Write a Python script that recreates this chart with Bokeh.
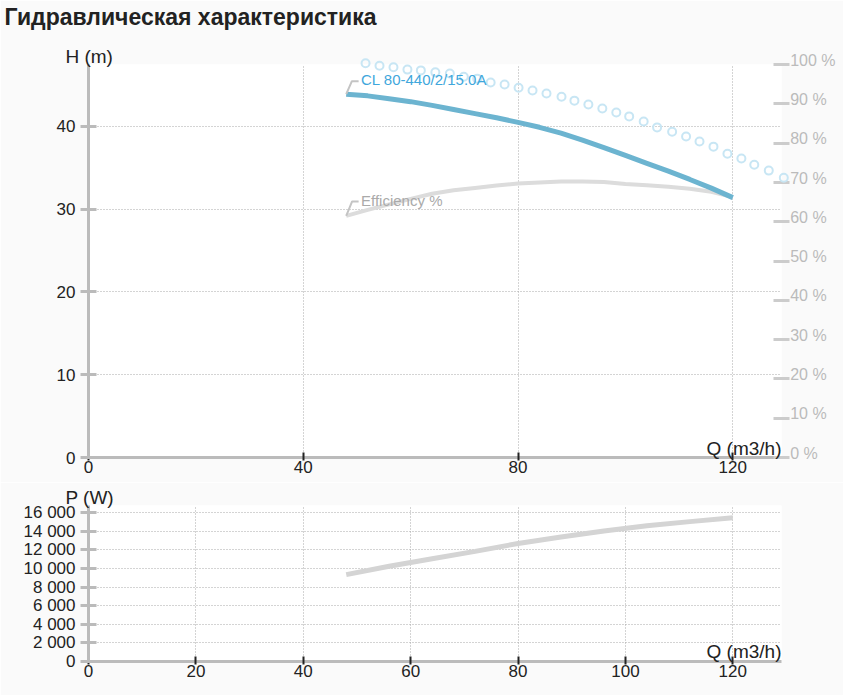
from bokeh.plotting import figure
from bokeh.models import (Range1d, LinearAxis, FixedTicker, CustomJSTickFormatter,
                          ColumnDataSource)
from bokeh.layouts import column
from bokeh.embed import file_html
from bokeh.resources import INLINE
from bokeh.core.properties import value

# ---------------- data ----------------
title_text = "Гидравлическая характеристика"
pump_name = "CL 80-440/2/15.0A"
eff_name = "Efficiency %"
h_title = "H (m)"
p_title = "P (W)"
q_title = "Q (m3/h)"

q_curve = [48, 52, 56, 60, 64, 68, 72, 76, 80, 84, 88, 92, 96, 100, 104, 108, 112, 116, 120]
head_m = [43.9, 43.7, 43.35, 43.0, 42.55, 42.05, 41.55, 41.05, 40.5, 39.9, 39.2, 38.35, 37.45,
          36.5, 35.55, 34.6, 33.6, 32.55, 31.4]
eff_pct = [61.5, 63.0, 64.4, 65.8, 67.1, 68.0, 68.6, 69.2, 69.7, 70.0, 70.2, 70.2, 70.1,
           69.6, 69.3, 68.9, 68.4, 67.6, 66.3]

q_power = [48, 56, 64, 72, 80, 88, 96, 104, 112, 120]
power_w = [9350, 10250, 11060, 11850, 12700, 13400, 14050, 14600, 15050, 15480]

q_dots = [51.6, 54.2, 56.8, 59.4, 61.9, 64.6, 67.3, 69.9, 72.4, 74.9, 77.5, 80.1, 82.7,
          85.3, 88.1, 90.5, 93.1, 95.7, 98.3, 100.7, 103.4, 105.9, 108.7, 111.3, 113.8,
          116.4, 119.0, 121.6, 124.0, 126.7, 129.5]
dots_pct = [100.3, 99.7, 99.3, 98.7, 98.5, 98.0, 97.7, 96.9, 96.4, 95.4, 94.9, 94.1, 93.4,
            92.6, 91.8, 90.8, 89.8, 88.8, 87.8, 86.8, 85.5, 84.0, 82.9, 81.7, 80.4,
            79.1, 77.3, 76.1, 74.5, 73.0, 71.2]

q_ticks_top = [0, 40, 80, 120]
q_ticks_bottom = [0, 20, 40, 60, 80, 100, 120]
h_ticks = [0, 10, 20, 30, 40]
pct_ticks = [0, 10, 20, 30, 40, 50, 60, 70, 80, 90, 100]
pct_labels = ["0 %", "10 %", "20 %", "30 %", "40 %", "50 %", "60 %", "70 %", "80 %", "90 %", "100 %"]
p_ticks = [0, 2000, 4000, 6000, 8000, 10000, 12000, 14000, 16000]
p_tick_labels = ["0", "2 000", "4 000", "6 000", "8 000", "10 000", "12 000", "14 000", "16 000"]

Q_MAX = 129.07
H_MAX = 47.49
P_MAX = 16786

FONT = "Liberation Sans"
BG = "#fafafa"
AXIS_GRAY = "#bbbbbb"
TEXT_DARK = "#222222"


def style_common(p, xticks):
    p.background_fill_color = "white"
    p.border_fill_color = BG
    p.outline_line_color = None
    ax = p.xaxis[0]
    ax.ticker = FixedTicker(ticks=xticks)
    ax.axis_line_color = AXIS_GRAY
    ax.axis_line_width = 3
    ax.major_tick_line_color = TEXT_DARK
    ax.major_tick_line_width = 2
    ax.major_tick_in = 5
    ax.major_tick_out = 3
    ax.minor_tick_line_color = None
    ax.major_label_standoff = 0
    ax.major_label_text_font = FONT
    ax.major_label_text_font_size = "17px"
    ax.major_label_text_color = TEXT_DARK
    ay = p.yaxis[0]
    ay.axis_line_color = AXIS_GRAY
    ay.axis_line_width = 3
    ay.major_tick_line_color = AXIS_GRAY
    ay.major_tick_line_width = 3
    ay.major_tick_in = 8
    ay.major_tick_out = 8
    ay.minor_tick_line_color = None
    ay.major_label_standoff = 5
    ay.major_label_text_font = FONT
    ay.major_label_text_font_size = "17px"
    ay.major_label_text_color = TEXT_DARK
    ay.major_label_text_baseline = "alphabetic"
    for g in (p.xgrid[0], p.ygrid[0]):
        g.grid_line_color = "#a8a8a8"
        g.grid_line_dash = "1 2"
        g.grid_line_width = 1


def add_text(p, x, y, text, size, color, align="left", style="normal",
             y_range_name="default"):
    r = p.text(x=[x], y=[y], text=[text], text_font=value(FONT),
               text_font_size=value(size), text_color=color, text_align=align,
               text_baseline="middle", text_font_style=style, y_range_name=y_range_name)
    r.level = "overlay"
    return r


# ---------------- top chart ----------------
p1 = figure(width=843, height=482, x_range=Range1d(0, Q_MAX), y_range=Range1d(0, H_MAX),
            output_backend="svg", toolbar_location=None,
            min_border_left=88, min_border_right=62, min_border_top=64, min_border_bottom=25)
p1.extra_y_ranges = {"pct": Range1d(0, 100)}
style_common(p1, q_ticks_top)
p1.yaxis[0].ticker = FixedTicker(ticks=h_ticks)

pct_axis = LinearAxis(y_range_name="pct", ticker=FixedTicker(ticks=pct_ticks),
                      formatter=CustomJSTickFormatter(code="return ''"),
                      axis_line_color=None, major_tick_in=8, major_tick_out=8,
                      major_tick_line_color="#cccccc", major_tick_line_width=3,
                      minor_tick_line_color=None)
p1.add_layout(pct_axis, "right")

p1.line(q_curve, eff_pct, y_range_name="pct", line_color="#dcdcdc", line_width=4)
p1.line(q_curve, head_m, line_color="#6cb4d0", line_width=5)
dots = p1.scatter(q_dots, dots_pct, y_range_name="pct", size=8, fill_color=None,
                  line_color="#c8e6f4", line_width=2)
dots.level = "overlay"

# label anchors
name_x, name_y = 50.76, 45.67
eff_lx, eff_ly = 50.76, 65.37

p1.line([q_curve[0], q_curve[0] + 1.06, name_x - 0.45],
        [head_m[0], name_y - 0.2, name_y - 0.2], line_color="#c4c4c4", line_width=2)
p1.line([q_curve[0], q_curve[0] + 1.1, eff_lx - 0.45],
        [eff_pct[0], eff_ly - 0.2, eff_ly - 0.2], y_range_name="pct",
        line_color="#c4c4c4", line_width=2)

add_text(p1, name_x, name_y, pump_name, "15px", "#3fa7dc")
add_text(p1, eff_lx, eff_ly, eff_name, "15px", "#aaaaaa", y_range_name="pct")
add_text(p1, -15.65, 53.23, title_text, "23px", TEXT_DARK, style="bold")
add_text(p1, -4.29, 48.46, h_title, "19px", TEXT_DARK)
add_text(p1, Q_MAX, 1.05, q_title, "19px", TEXT_DARK, align="right")

pct_src = ColumnDataSource(dict(x=[130.68] * len(pct_ticks),
                                y=[t + 1.1 for t in pct_ticks], text=pct_labels))
pct_r = p1.text(x="x", y="y", text="text", source=pct_src, y_range_name="pct",
                text_baseline="middle", text_align="left", text_color="#bbbbbb",
                text_font=value(FONT), text_font_size=value("16px"))
pct_r.level = "overlay"

# ---------------- bottom chart ----------------
p2 = figure(width=843, height=213, x_range=Range1d(0, Q_MAX), y_range=Range1d(0, P_MAX),
            output_backend="svg", toolbar_location=None,
            min_border_left=88, min_border_right=62, min_border_top=23, min_border_bottom=34)
style_common(p2, q_ticks_bottom)
p2.yaxis[0].ticker = FixedTicker(ticks=p_ticks)
p2.yaxis[0].major_label_overrides = dict(zip(p_ticks, p_tick_labels))

p2.line(q_power, power_w, line_color="#d4d4d4", line_width=5)

add_text(p2, -4.29, 17679, p_title, "19px", TEXT_DARK)
add_text(p2, Q_MAX, 1076, q_title, "19px", TEXT_DARK, align="right")

layout = column(p1, p2, spacing=0)
open("out.html", "w").write(file_html(layout, INLINE))
